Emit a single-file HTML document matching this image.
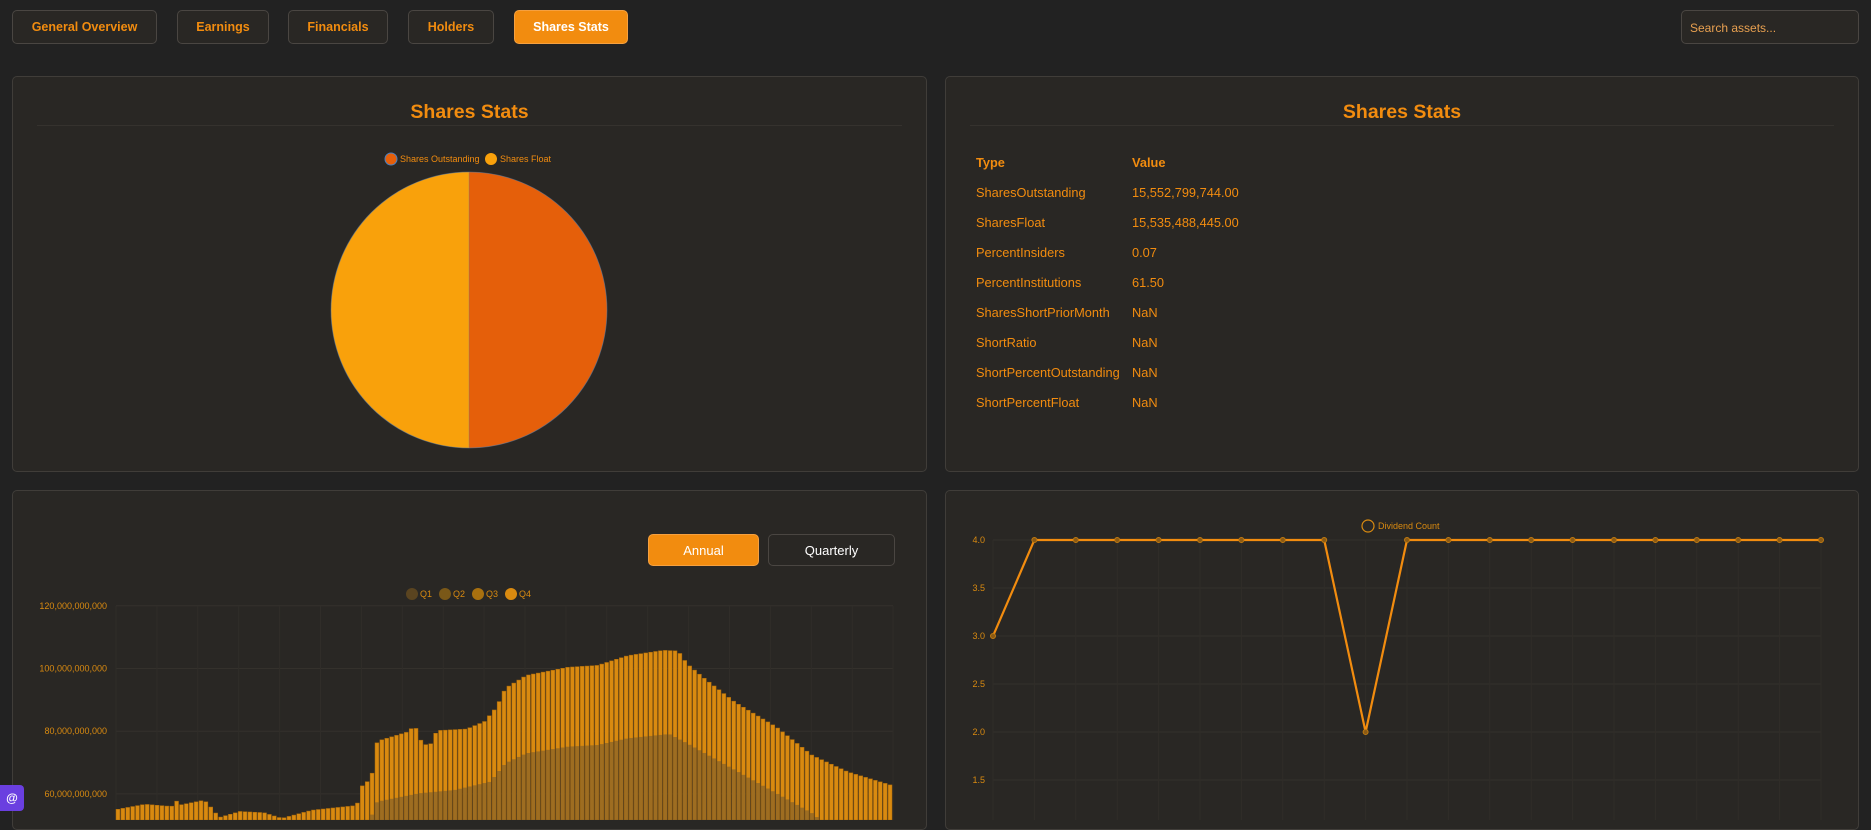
<!DOCTYPE html>
<html><head><meta charset="utf-8">
<style>
*{box-sizing:border-box;margin:0;padding:0}
body{width:1871px;height:820px;background:#222222;font-family:"Liberation Sans",sans-serif;position:relative;overflow:hidden}
.tab{position:absolute;top:10px;height:34px;border:1px solid #4a4642;border-radius:5px;background:#292724;color:#f28c0f;font-weight:bold;font-size:12.5px;display:flex;align-items:center;justify-content:center}
.tab.act{background:#f28c0f;color:#fff;border-color:#f5a040}
.search{position:absolute;left:1681px;top:10px;width:178px;height:34px;border:1px solid #4a4642;border-radius:5px;background:#292724;color:#e8a050;font-size:12px;padding:10px 8px}
.panel{position:absolute;background:#292724;border:1px solid #403d39;border-radius:5px}
.title{position:absolute;left:24px;right:24px;top:24px;text-align:center;color:#f28c0f;font-weight:bold;font-size:19.5px;line-height:22px;padding-bottom:2px;border-bottom:1px solid #35322e}
.tbl{position:absolute;color:#f28c0f;font-size:12.8px}
.tbl div{position:absolute;white-space:nowrap}
svg text{font-family:"Liberation Sans",sans-serif}
</style></head><body>
<div class="tab" style="left:12px;width:145px">General Overview</div>
<div class="tab" style="left:177px;width:92px">Earnings</div>
<div class="tab" style="left:288px;width:100px">Financials</div>
<div class="tab" style="left:408px;width:86px">Holders</div>
<div class="tab act" style="left:514px;width:114px">Shares Stats</div>
<div class="search">Search assets...</div>

<div class="panel" style="left:12px;top:76px;width:915px;height:396px"><div class="title">Shares Stats</div></div>
<div class="panel" style="left:945px;top:76px;width:914px;height:396px"><div class="title">Shares Stats</div></div>
<div class="panel" style="left:12px;top:490px;width:915px;height:340px"></div>
<div class="panel" style="left:945px;top:490px;width:914px;height:340px"></div>

<svg style="position:absolute;left:0;top:0" width="1871" height="820">
 <circle cx="391" cy="159" r="6" fill="#e55f0a" stroke="#4a80c0" stroke-width="1"/>
 <text x="400" y="162" font-size="9" fill="#f28c0f">Shares Outstanding</text>
 <circle cx="491" cy="159" r="6" fill="#f9a10b"/>
 <text x="500" y="162" font-size="9" fill="#f28c0f">Shares Float</text>
 <path d="M469,310 L469,172 A138,138 0 0 1 469,448 Z" fill="#e55f0a"/>
 <path d="M469,310 L469,448 A138,138 0 0 1 469,172 Z" fill="#f9a10b"/>
 <circle cx="469" cy="310" r="138" fill="none" stroke="#5a7fa8" stroke-width="0.8" opacity="0.6"/>
 <line x1="469" y1="172" x2="469" y2="448" stroke="#5a7fa8" stroke-width="0.6" opacity="0.5"/>
</svg>

<div class="tbl" style="left:976px;top:155px">
 <div style="left:0;top:0;font-weight:bold">Type</div><div style="left:156px;top:0;font-weight:bold">Value</div>
 <div style="left:0;top:30px">SharesOutstanding</div><div style="left:156px;top:30px">15,552,799,744.00</div>
 <div style="left:0;top:60px">SharesFloat</div><div style="left:156px;top:60px">15,535,488,445.00</div>
 <div style="left:0;top:90px">PercentInsiders</div><div style="left:156px;top:90px">0.07</div>
 <div style="left:0;top:120px">PercentInstitutions</div><div style="left:156px;top:120px">61.50</div>
 <div style="left:0;top:150px">SharesShortPriorMonth</div><div style="left:156px;top:150px">NaN</div>
 <div style="left:0;top:180px">ShortRatio</div><div style="left:156px;top:180px">NaN</div>
 <div style="left:0;top:210px">ShortPercentOutstanding</div><div style="left:156px;top:210px">NaN</div>
 <div style="left:0;top:240px">ShortPercentFloat</div><div style="left:156px;top:240px">NaN</div>
</div>

<div class="tab act" style="left:648px;top:534px;width:111px;height:32px;font-weight:normal;font-size:13px">Annual</div>
<div class="tab" style="left:768px;top:534px;width:127px;height:32px;font-weight:normal;font-size:13px;color:#fff">Quarterly</div>

<svg id="bars" style="position:absolute;left:0;top:0" width="1871" height="820"></svg>
<svg id="div" style="position:absolute;left:0;top:0" width="1871" height="820"></svg>

<div style="position:absolute;left:0;top:785px;width:24px;height:26px;background:#6a3fe0;border-radius:0 4px 4px 0;color:#fff;font-size:12px;font-weight:bold;display:flex;align-items:center;justify-content:center">@</div>

<script>
var NS="http://www.w3.org/2000/svg";
function el(p,t,a,txt){var e=document.createElementNS(NS,t);for(var k in a)e.setAttribute(k,a[k]);if(txt)e.textContent=txt;p.appendChild(e);return e;}
function interp(pts,x){for(var i=0;i<pts.length-1;i++){if(x<=pts[i+1][0]){var t=(x-pts[i][0])/(pts[i+1][0]-pts[i][0]);return pts[i][1]+t*(pts[i+1][1]-pts[i][1]);}}return pts[pts.length-1][1];}
var b=document.getElementById('bars');
var ys=[[120,"120,000,000,000"],[100,"100,000,000,000"],[80,"80,000,000,000"],[60,"60,000,000,000"]];
ys.forEach(function(v){var y=982-v[0]*3.135;el(b,'line',{x1:116,x2:893,y1:y,y2:y,stroke:'#34312c','stroke-width':1});el(b,'text',{x:107,y:y+3,'font-size':9,fill:'#d98a10','text-anchor':'end'},v[1]);});
for(var i=0;i<20;i++){var x=116+i*40.9;el(b,'line',{x1:x,x2:x,y1:606,y2:820,stroke:'#302d29','stroke-width':1});}
var lc=['#5a4420','#7a5818','#a8700f','#d98a10'];
for(var i=0;i<4;i++){var cx=412+i*33;el(b,'circle',{cx:cx,cy:594,r:6,fill:lc[i]});el(b,'text',{x:cx+8,y:597,'font-size':9,fill:'#d98a10'},'Q'+(i+1));}
var env=[[195,55.1],[240,56.7],[285,56],[290,58.3],[300,56.5],[340,58],[350,56],[365,52.5],[400,54.4],[440,54],[470,52.2],[520,54.8],[590,56.2],[600,57.5],[605,62.6],[620,65],[630,76.8],[680,79.7],[690,81.3],[700,80.5],[705,75.5],[720,76],[730,80.2],[780,80.7],[810,83.1],[830,87.6],[845,93.7],[880,97.8],[950,100.4],[1000,101],[1050,104.1],[1110,105.8],[1135,105.6],[1150,101.5],[1180,96.7],[1230,89.3],[1300,81.3],[1360,72.3],[1420,67],[1497,62.5]];
var inner=[[600,1100],[630,965],[700,940],[760,930],[820,905],[845,850],[880,820],[950,800],[1000,795],[1050,775],[1120,762],[1150,790],[1200,840],[1260,900],[1320,960],[1360,1000],[1400,1060],[1500,1100]];
var N=159;
for(var i=0;i<N;i++){
 var x=116+i*(777/N);var zx=195+(x-116)/0.596;
 var v=interp(env,zx);var y=982-v*3.135;
 el(b,'rect',{x:x,y:y,width:3.9,height:820-y,fill:'#d98a10',stroke:'#a8680a','stroke-width':0.5});
 var iy=480+interp(inner,zx)/3;
 if(iy<820)el(b,'rect',{x:x,y:iy,width:3.9,height:820-iy,fill:'#6e5530','fill-opacity':0.55});
}
var d=document.getElementById('div');
var dl=[[4.0,540],[3.5,588],[3.0,636],[2.5,684],[2.0,732],[1.5,780]];
dl.forEach(function(v){el(d,'line',{x1:993,x2:1821,y1:v[1],y2:v[1],stroke:'#33302b'});el(d,'text',{x:985,y:v[1]+3,'font-size':9,fill:'#d98a10','text-anchor':'end'},v[0].toFixed(1));});
var vals=[3,4,4,4,4,4,4,4,4,2,4,4,4,4,4,4,4,4,4,4,4];var pts=[];
vals.forEach(function(v,i){var x=993+i*41.4;el(d,'line',{x1:x,x2:x,y1:540,y2:820,stroke:'#302d29'});pts.push(x+','+(540+(4-v)*96));});
el(d,'polyline',{points:pts.join(' '),fill:'none',stroke:'#f28c0f','stroke-width':2.2});
pts.forEach(function(p){var a=p.split(',');el(d,'circle',{cx:a[0],cy:a[1],r:2.5,fill:'#8a5a15',stroke:'#c07a10','stroke-width':1});});
el(d,'circle',{cx:1368,cy:526,r:6,fill:'none',stroke:'#d98a10','stroke-width':1.2});
el(d,'text',{x:1378,y:529,'font-size':9,fill:'#d98a10'},'Dividend Count');
</script>
</body></html>
